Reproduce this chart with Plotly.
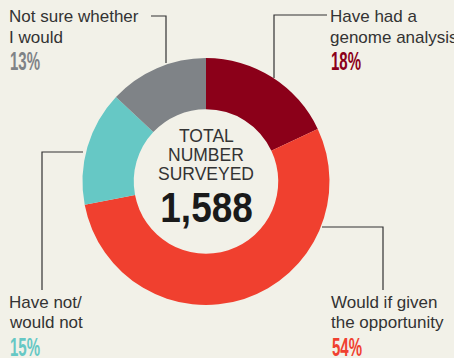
import json
import plotly.graph_objects as go

W, H = 454, 358

labels = ["Have had a genome analysis", "Would if given the opportunity", "Have not/would not", "Not sure whether I would"]
values = [18, 54, 15, 13]
colors = ["#8B0019", "#F0402F", "#66C8C5", "#7F8387"]
pct_labels = ["18%", "54%", "15%", "13%"]
total_label = "1,588"

BG = "#F2F1E8"
TXT = "#333333"
LBL_FONT = "Liberation Sans, Arial, sans-serif"
NUM_FONT = "Liberation Sans, Arial, sans-serif"

cx, cy, R = 206, 181.5, 123.5

def px(x):
    return x / W

def py(y):
    return 1 - y / H

fig = go.Figure(go.Pie(
    labels=labels, values=values, sort=False, direction="clockwise", rotation=0,
    hole=0.585, marker=dict(colors=colors, line=dict(width=0)),
    textinfo="none", hoverinfo="label+percent", showlegend=False,
    domain=dict(x=[px(cx - R), px(cx + R)], y=[py(cy + R), py(cy - R)]),
))

ann = []
condense = []  # (annotation index, x-scale, origin mode)
def txt(x, y, s, size, color=TXT, family=LBL_FONT, anchor="left", squeeze=None):
    if squeeze is not None:
        condense.append([len(ann), squeeze, anchor])
    ann.append(dict(x=px(x), y=py(y), xref="paper", yref="paper", text=s, showarrow=False,
                    xanchor=anchor, yanchor="middle", font=dict(size=size, color=color, family=family)))

LS = 17
CS = 17.5
PS = 25
SQ = 0.6
# Left-top label
txt(7, 17, "Not sure whether", LS)
txt(7, 37, "I would", LS)
txt(8, 61.5, "<b>" + pct_labels[3] + "</b>", PS, colors[3], NUM_FONT, squeeze=SQ)
# Right-top label
txt(328, 17, "Have had a", LS)
txt(328, 37, "genome analysis", LS)
txt(329, 61.5, "<b>" + pct_labels[0] + "</b>", PS, colors[0], NUM_FONT, squeeze=SQ)
# Left-bottom label
txt(7, 302, "Have not/", LS)
txt(7, 322, "would not", LS)
txt(8, 346.5, "<b>" + pct_labels[2] + "</b>", PS, colors[2], NUM_FONT, squeeze=SQ)
# Right-bottom label
txt(329, 302, "Would if given", LS)
txt(329, 322, "the opportunity", LS)
txt(330, 346.5, "<b>" + pct_labels[1] + "</b>", PS, colors[1], NUM_FONT, squeeze=SQ)
# Center
txt(cx, 136, "TOTAL", CS, anchor="center")
txt(cx, 155, "NUMBER", CS, anchor="center")
txt(cx, 174, "SURVEYED", CS, anchor="center")
txt(cx, 207, "<b>" + total_label + "</b>", 42, "#1a1a1a", NUM_FONT, anchor="center", squeeze=0.88)

shapes = []
def seg(pts):
    path = "M " + " L ".join(f"{px(x)},{py(y)}" for x, y in pts)
    shapes.append(dict(type="path", path=path, xref="paper", yref="paper",
                       line=dict(color=TXT, width=1.2)))

seg([(151, 16), (166, 16), (166, 63)])
seg([(327, 15), (274, 15), (274, 78)])
seg([(83, 152), (42, 152), (42, 290)])
seg([(322, 227), (383, 227), (383, 290)])

fig.update_layout(width=W, height=H, margin=dict(l=0, r=0, t=0, b=0),
                  paper_bgcolor=BG, plot_bgcolor=BG, annotations=ann, shapes=shapes)

post = """
var gd = document.getElementById('{plot_id}');
var spec = %s;
function squeeze() {
  spec.forEach(function (s) {
    var g = gd.querySelector('g.annotation[data-index="' + s[0] + '"]');
    if (!g) return;
    var t = g.querySelector('text.annotation-text');
    if (!t) return;
    t.removeAttribute('transform');
    var b = t.getBBox();
    var ox = s[2] === 'left' ? b.x : b.x + b.width / 2;
    t.setAttribute('transform', 'translate(' + ox + ',0) scale(' + s[1] + ',1) translate(' + (-ox) + ',0)');
  });
}
squeeze();
gd.on('plotly_afterplot', squeeze);
""" % json.dumps(condense)

fig.write_html("out.html", post_script=post)
